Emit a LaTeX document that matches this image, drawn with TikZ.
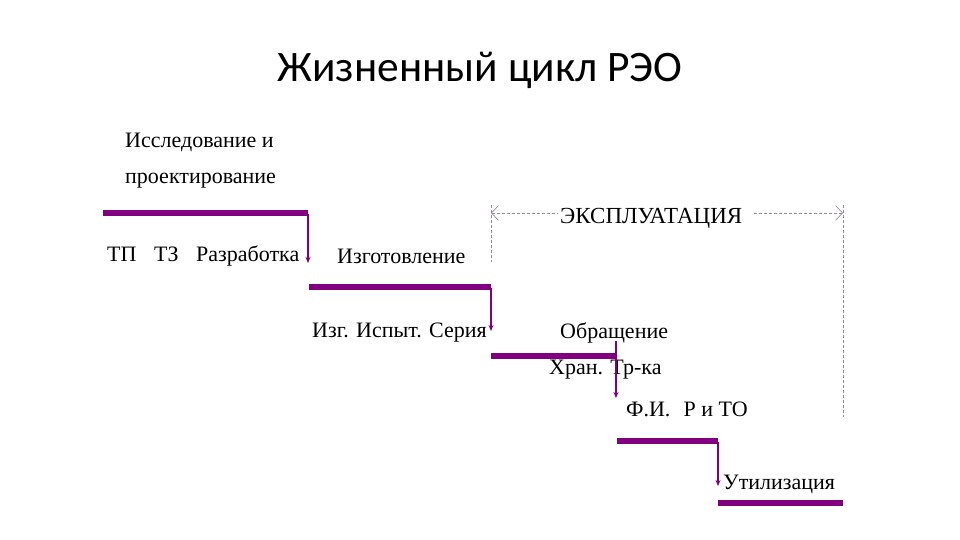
\documentclass[tikz,border=0pt]{standalone}
\usepackage{fontspec}
\setmainfont{Liberation Serif}
\newfontfamily\titlefont{Carlito}
\usetikzlibrary{arrows.meta}
\definecolor{barpurple}{RGB}{128,0,128}
\definecolor{dashgray}{RGB}{150,140,150}
\begin{document}
\begin{tikzpicture}[x=1pt,y=-1pt,
  lbl/.style={inner sep=0pt,anchor=west,yshift=-2pt,font=\fontsize{22}{26}\selectfont},
  bar/.style={line width=6pt,draw=barpurple},
  darr/.style={draw=barpurple,line width=1.3pt,-{Stealth[length=6pt,width=5pt]}},
  dashl/.style={draw=dashgray,line width=0.7pt,dash pattern=on 3pt off 2pt},
  mybarb/.tip={Straight Barb[length=7pt,width=15pt]}]
\useasboundingbox (0,0) rectangle (960,540);
\node[inner sep=0pt,font=\titlefont\fontsize{43.5}{50}\selectfont] (title) at (480,70) {Жизненный цикл РЭО};
% texts
\node[lbl] (t1) at (125,140) {Исследование и};
\node[lbl] (t2) at (125,179) {проектирование};
\node[lbl] (t3) at (107,254) {ТП\hspace{0.8em}ТЗ\hspace{0.8em}Разработка};
\node[lbl] (t4) at (337,254) {Изготовление};
\node[lbl] (t5) at (312,331) {Изг. Испыт. Серия};
\node[lbl] (t6) at (560,331) {Обращение};
\node[lbl] (t7) at (549,368) {Хран. Тр-ка};
\node[lbl] (t8) at (626,407) {Ф.И.\hspace{0.6em}Р и ТО};
\node[lbl] (t9) at (723,482) {Утилизация};
\node[lbl,font=\fontsize{23}{26}\selectfont] (ex) at (560,216) {ЭКСПЛУАТАЦИЯ};
% bar coordinates
\coordinate (b1s) at (103,213); \coordinate (b1e) at (308,213);
\coordinate (b2s) at (309,287); \coordinate (b2e) at (491,287);
\coordinate (b3s) at (491,356); \coordinate (b3e) at (616,356);
\coordinate (b4s) at (617,441); \coordinate (b4e) at (718,441);
\coordinate (b5s) at (718,503); \coordinate (b5e) at (843,503);
\draw[bar] (b1s) -- (b1e);
\draw[bar] (b2s) -- (b2e);
\draw[bar] (b3s) -- (b3e);
\draw[bar] (b4s) -- (b4e);
\draw[bar] (b5s) -- (b5e);
% arrows
\coordinate (a1e) at (308,263);
\coordinate (a2e) at (491,331);
\coordinate (a3s) at (616,341); \coordinate (a3e) at (616,398);
\coordinate (a4e) at (718,486);
\draw[darr] ([yshift=-1pt]b1e) -- (a1e);
\draw[darr] ([yshift=-1pt]b2e) -- (a2e);
\draw[darr] (a3s) -- (a3e);
\draw[darr] ([yshift=-1pt]b4e) -- (a4e);
% exploitation span
\coordinate (el) at (491,213); \coordinate (er) at (843,213);
\coordinate (elt) at (491,205); \coordinate (elb) at (491,262);
\coordinate (ert) at (843,205); \coordinate (erb) at (843,417);
\draw[dashl] (elt) -- (elb);
\draw[dashl] (ert) -- (erb);
\draw[dashl,mybarb-] (el) -- ([xshift=-2pt]ex.west |- el);
\draw[dashl,-mybarb] ([xshift=12pt]ex.east |- er) -- (er);
\end{tikzpicture}
\end{document}
